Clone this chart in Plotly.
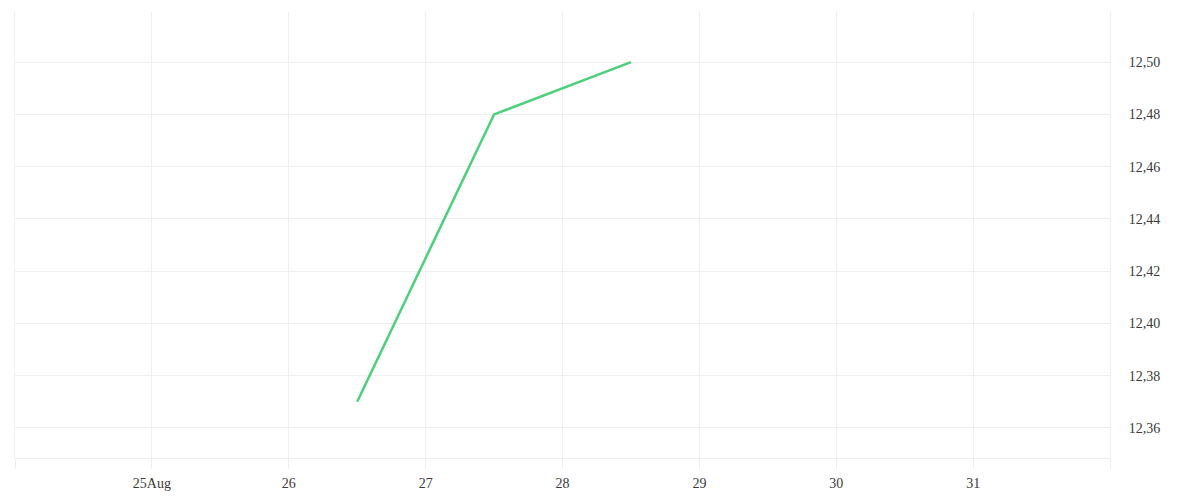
import plotly.graph_objects as go

dates = ["2024-08-26 12:00", "2024-08-27 12:00", "2024-08-28 12:00"]
values = [12.37, 12.48, 12.50]

x_tick_vals = ["2024-08-24", "2024-08-25", "2024-08-26", "2024-08-27", "2024-08-28",
               "2024-08-29", "2024-08-30", "2024-08-31", "2024-09-01"]
x_tick_text = ["", "25Aug", "26", "27", "28", "29", "30", "31", ""]
y_tick_vals = [12.36, 12.38, 12.40, 12.42, 12.44, 12.46, 12.48, 12.50]

grid = "#efefef"
font = dict(family="Liberation Serif, DejaVu Serif, serif", size=14, color="#3a3a3a")

fig = go.Figure()
fig.add_trace(go.Scatter(x=dates, y=values, mode="lines",
                         line=dict(color="#4cd07b", width=2.5), showlegend=False))

fig.update_layout(
    width=1192, height=492,
    margin=dict(l=7, r=90, t=4, b=42, autoexpand=False),
    paper_bgcolor="white", plot_bgcolor="white",
    separators=",.",
    font=font,
    xaxis=dict(
        type="date",
        range=["2024-08-24", "2024-09-01"],
        tickvals=x_tick_vals, ticktext=x_tick_text,
        showgrid=True, gridcolor=grid, gridwidth=1,
        ticks="outside", ticklen=10, tickcolor=grid, tickwidth=1,
        showline=True, linecolor=grid, linewidth=1,
        ticklabelstandoff=2,
        zeroline=False, tickfont=font,
    ),
    yaxis=dict(
        side="right",
        range=[12.3485, 12.5192],
        tickvals=y_tick_vals, tickformat=".2f",
        showgrid=True, gridcolor=grid, gridwidth=1,
        showline=True, mirror=True, linecolor=grid, linewidth=1,
        ticks="", ticklabelstandoff=15,
        zeroline=False, tickfont=font,
    ),
)

fig.write_html("out.html")
